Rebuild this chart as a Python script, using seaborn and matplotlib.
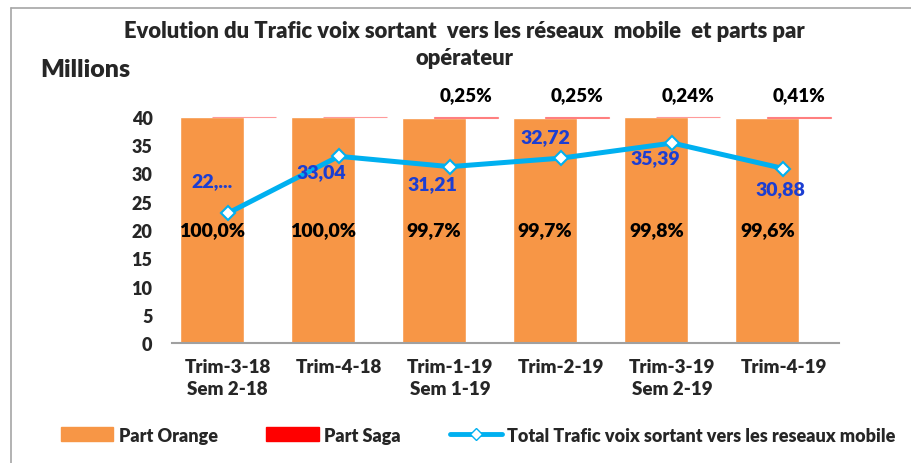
import numpy as np
import seaborn as sns
import matplotlib.pyplot as plt
import pandas as pd
from matplotlib.patches import Patch
from matplotlib.lines import Line2D

# data
periods = ["Trim-3-18\nSem 2-18", "Trim-4-18", "Trim-1-19\nSem 1-19",
           "Trim-2-19", "Trim-3-19\nSem 2-19", "Trim-4-19"]
part_orange = [100.0, 100.0, 99.7, 99.7, 99.8, 99.6]
part_saga = [0.0, 0.0, 0.25, 0.25, 0.24, 0.41]
saga_labels = ["", "", "0,25%", "0,25%", "0,24%", "0,41%"]
trafic_total = [22.95, 33.04, 31.21, 32.72, 35.39, 30.88]
trafic_labels = ["22,...", "33,04", "31,21", "32,72", "35,39", "30,88"]

sns.set_theme(style="white")
plt.rcParams['font.family'] = ['Lato', 'DejaVu Sans']
plt.rcParams['font.weight'] = 'heavy'

ORANGE = "#F79646"
RED = "#FF0000"
BLUE_LINE = "#00B0F0"
BLUE_TXT = "#1C3ED2"
W = "heavy"

df = pd.DataFrame({"pos": np.arange(len(periods)), "periode": periods,
                   "orange": part_orange, "saga": part_saga, "total": trafic_total})
scale = 40 / 100  # shares drawn on the 0-40 axis
off = 0.144
w = 0.576

fig = plt.figure(figsize=(9.11, 4.64), dpi=100)
ax = fig.add_axes([0.1888, 0.2586, 0.7322, 0.4871])

ax.bar(df["pos"] - off, df["orange"] * scale, width=w, color=ORANGE, zorder=2)
ax.bar(df["pos"] + off, df["saga"] * scale, bottom=df["orange"] * scale, width=w,
       color=RED, edgecolor="#FF7070", linewidth=0.8, alpha=0.7, zorder=2, clip_on=False)

sns.lineplot(data=df, x="pos", y="total", ax=ax, color=BLUE_LINE, linewidth=3.6,
             marker="D", markersize=7, markerfacecolor="white",
             markeredgecolor=BLUE_LINE, markeredgewidth=1.5, zorder=4)

# share labels
for i, v in enumerate(part_orange):
    ax.text(i - off, 20, f"{v:.1f}%".replace(".", ","), ha="center", va="center",
            fontsize=14, fontweight=W, color="black", zorder=5)
for i, s in enumerate(saga_labels):
    if s:
        ax.text(i + off, 43.9, s, ha="center", va="center", fontsize=13.5,
                fontweight=W, color="black", clip_on=False)

# traffic labels
label_dx = [-0.14, -0.16, -0.16, -0.14, -0.15, -0.03]
label_y = [28.8, 30.4, 28.3, 36.6, 32.9, 27.4]
for i, s in enumerate(trafic_labels):
    ax.text(i + label_dx[i], label_y[i], s, ha="center", va="center", fontsize=14,
            fontweight=W, color=BLUE_TXT, zorder=6)

ax.set_xlim(-0.5, len(periods) - 0.5)
ax.set_ylim(0, 40)
ax.set_yticks(range(0, 41, 5))
ax.set_xticks(df["pos"])
ax.set_xticklabels(periods, fontsize=13.5, fontweight=W, linespacing=1.35)
ax.tick_params(axis="y", labelsize=13, pad=14, length=0)
ax.tick_params(axis="x", pad=11, length=0)
for lab in ax.get_yticklabels():
    lab.set_fontweight(W)
ax.set_xlabel("")
ax.set_ylabel("")
for sp in ["left", "right", "top"]:
    ax.spines[sp].set_visible(False)
ax.spines["bottom"].set_color("#A0A0A0")
ax.spines["bottom"].set_linewidth(1.5)
ax.patch.set_alpha(0)

fig.text(0.51, 0.903, "Evolution du Trafic voix sortant  vers les réseaux  mobile  et parts par\nopérateur",
         ha="center", va="center", fontsize=15.8, fontweight=W, linespacing=1.4)
fig.text(0.044, 0.849, "Millions", ha="left", va="center", fontsize=18, fontweight=W)

handles = [Patch(color=ORANGE, label="Part Orange"),
           Patch(color=RED, label="Part Saga"),
           Line2D([0], [0], color=BLUE_LINE, lw=3.5, marker="D", markersize=6,
                  markerfacecolor="white", markeredgecolor=BLUE_LINE,
                  label="Total Trafic voix sortant vers les reseaux mobile")]
leg = fig.legend(handles=handles, loc="center", bbox_to_anchor=(0.525, 0.06), ncol=3,
                 frameon=False, fontsize=13, handlelength=2.9, handletextpad=0.3,
                 columnspacing=2.7, handleheight=0.8)
for t in leg.get_texts():
    t.set_fontweight(W)

# outer frame of the picture
fig.add_artist(Line2D([0.012, 1.0], [0.981, 0.981], color="#A6A6A6", lw=1.2))
fig.add_artist(Line2D([0.012, 0.012], [0.0, 0.981], color="#A6A6A6", lw=1.2))

fig.savefig("out.png", dpi=100)
